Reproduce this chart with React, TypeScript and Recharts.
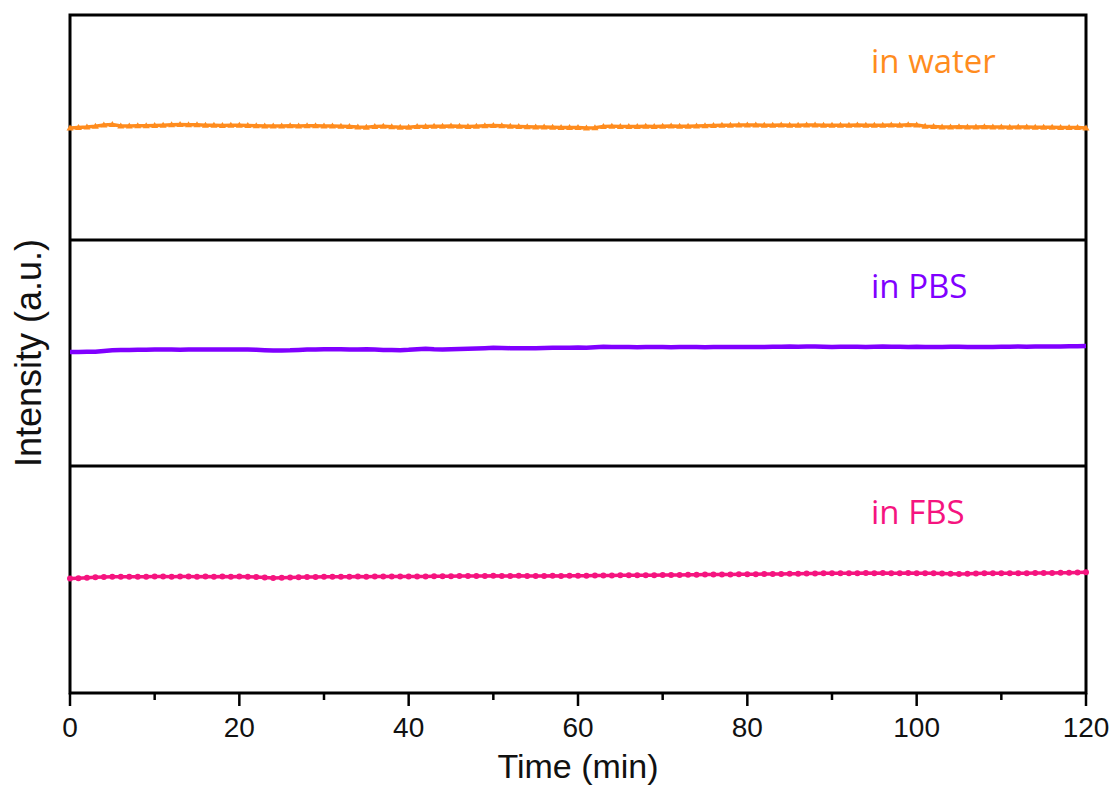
import React from 'react';
import { LineChart, Line, XAxis, YAxis, ReferenceArea } from 'recharts';

// intensity readings, one per minute from 0 to 120 min
const waterIntensity = [
  0.996, 1.0, 1.004, 1.012, 1.022, 1.027, 1.014, 1.013, 1.016, 1.015,
  1.017, 1.02, 1.024, 1.026, 1.025, 1.024, 1.021, 1.019, 1.018, 1.02,
  1.019, 1.017, 1.015, 1.014, 1.013, 1.014, 1.015, 1.014, 1.016, 1.015,
  1.014, 1.013, 1.012, 1.008, 1.004, 1.002, 1.01, 1.011, 1.006, 1.003,
  1.002, 1.008, 1.01, 1.011, 1.012, 1.013, 1.011, 1.009, 1.012, 1.016,
  1.018, 1.015, 1.011, 1.008, 1.006, 1.004, 1.005, 1.002, 1.0, 1.001,
  0.999, 0.996, 0.998, 1.01, 1.012, 1.01, 1.008, 1.009, 1.011, 1.01,
  1.012, 1.013, 1.011, 1.012, 1.014, 1.016, 1.018, 1.02, 1.021, 1.022,
  1.023, 1.022, 1.021, 1.02, 1.022, 1.021, 1.02, 1.022, 1.023, 1.021,
  1.02, 1.019, 1.021, 1.022, 1.02, 1.019, 1.021, 1.022, 1.02, 1.024,
  1.022, 1.012, 1.008, 1.005, 1.004, 1.006, 1.005, 1.004, 1.006, 1.005,
  1.004, 1.003, 1.005, 1.004, 1.003, 1.002, 1.003, 1.001, 1.0, 0.999,
  0.996,
];

const pbsIntensity = [
  1.009, 1.008, 1.01, 1.012, 1.018, 1.024, 1.026, 1.027, 1.028, 1.029,
  1.03, 1.031, 1.03, 1.029, 1.031, 1.03, 1.031, 1.032, 1.031, 1.031,
  1.032, 1.031, 1.028, 1.025, 1.022, 1.023, 1.024, 1.027, 1.03, 1.032,
  1.033, 1.034, 1.033, 1.032, 1.031, 1.033, 1.03, 1.027, 1.026, 1.025,
  1.028, 1.034, 1.037, 1.033, 1.032, 1.034, 1.036, 1.037, 1.039, 1.042,
  1.046, 1.045, 1.043, 1.041, 1.042, 1.043, 1.045, 1.046, 1.047, 1.047,
  1.048, 1.046, 1.05, 1.055, 1.053, 1.052, 1.052, 1.051, 1.052, 1.053,
  1.052, 1.051, 1.052, 1.053, 1.052, 1.051, 1.052, 1.054, 1.053, 1.052,
  1.053, 1.054, 1.053, 1.055, 1.056, 1.057, 1.056, 1.058, 1.057, 1.055,
  1.054, 1.055, 1.056, 1.055, 1.054, 1.056, 1.057, 1.056, 1.055, 1.054,
  1.055, 1.053, 1.052, 1.054, 1.055, 1.056, 1.054, 1.052, 1.053, 1.054,
  1.055, 1.056, 1.057, 1.056, 1.057, 1.058, 1.057, 1.058, 1.059, 1.06,
  1.061,
];

const fbsIntensity = [
  1.009, 1.012, 1.016, 1.02, 1.022, 1.024, 1.025, 1.025, 1.024, 1.025,
  1.026, 1.026, 1.025, 1.026, 1.026, 1.025, 1.026, 1.025, 1.026, 1.025,
  1.026, 1.024, 1.021, 1.018, 1.013, 1.015, 1.018, 1.02, 1.022, 1.023,
  1.024, 1.025, 1.024, 1.025, 1.026, 1.025, 1.026, 1.027, 1.026, 1.027,
  1.027, 1.026, 1.027, 1.028, 1.028, 1.029, 1.03, 1.03, 1.031, 1.031,
  1.032, 1.031, 1.031, 1.032, 1.031, 1.03, 1.031, 1.032, 1.031, 1.032,
  1.033, 1.034, 1.035, 1.036, 1.036, 1.037, 1.037, 1.038, 1.037, 1.038,
  1.039, 1.04, 1.04, 1.041, 1.042, 1.043, 1.043, 1.044, 1.045, 1.046,
  1.047, 1.047, 1.048, 1.049, 1.049, 1.05, 1.051, 1.052, 1.053, 1.054,
  1.055, 1.055, 1.056, 1.056, 1.057, 1.056, 1.057, 1.056, 1.056, 1.057,
  1.056, 1.055, 1.054, 1.052, 1.05, 1.049, 1.05, 1.053, 1.055, 1.054,
  1.055, 1.056, 1.055, 1.056, 1.057, 1.057, 1.058, 1.059, 1.06, 1.061,
  1.063,
];

// sampled once per minute
const minutes = waterIntensity.map((_, i) => i);

const timeTicks = [0, 10, 20, 30, 40, 50, 60, 70, 80, 90, 100, 110, 120];
const labeledTicks = [0, 20, 40, 60, 80, 100, 120];

const panels = [
  { key: 'water', label: 'in water', color: '#FF8C1E', values: waterIntensity },
  { key: 'pbs', label: 'in PBS', color: '#8000FF', values: pbsIntensity },
  { key: 'fbs', label: 'in FBS', color: '#F5147F', values: fbsIntensity },
];

const LEFT = 70;
const RIGHT = 1086;
const WIDTH = 1113;
const HEIGHT = 785;
// panel boundaries (top, bottom) in page pixels
const bands = [
  [15, 240],
  [240, 466],
  [466, 693],
];

const axisFont = '"Liberation Sans", Arial, sans-serif';
const labelFont = '"Open Sans", "Noto Sans", sans-serif';

function TimeTick(props: any) {
  const { x, y, payload } = props;
  const major = labeledTicks.includes(payload.value);
  return (
    <g>
      <line x1={x} x2={x} y1={y} y2={y + (major ? 13 : 7)} stroke="#000" strokeWidth={2.5} />
      {major && (
        <text x={x} y={y + 44} textAnchor="middle" fontSize={28} fontFamily={axisFont} fill="#111">
          {payload.value}
        </text>
      )}
    </g>
  );
}

function triangleDot(color: string) {
  return (p: any) => {
    const { cx, cy, index } = p;
    if (cx == null || cy == null) return <g key={`t-${index}`} />;
    return (
      <path
        key={`t-${index}`}
        d={`M${cx - 3.5},${cy + 2.5} L${cx},${cy - 3.5} L${cx + 3.5},${cy + 2.5} Z`}
        fill={color}
      />
    );
  };
}

function Panel({ idx }: { idx: number }) {
  const p = panels[idx];
  const [top, bottom] = bands[idx];
  const last = idx === panels.length - 1;
  const data = minutes.map((t, i) => ({ t, v: p.values[i] }));
  const svgTop = idx === 0 ? 0 : top;
  const svgHeight = last ? HEIGHT - top : bottom - svgTop;
  const marginTop = top - svgTop;
  const marginBottom = last ? HEIGHT - bottom - 60 : 0;

  let dot: any = false;
  let strokeWidth = 4.5;
  if (p.key === 'water') {
    dot = triangleDot(p.color);
    strokeWidth = 3.5;
  } else if (p.key === 'fbs') {
    dot = { r: 3, fill: p.color, stroke: 'none' };
    strokeWidth = 3.5;
  }

  return (
    <div style={{ position: 'absolute', left: 0, top: svgTop }}>
      <LineChart
        width={WIDTH}
        height={svgHeight}
        data={data}
        margin={{ top: marginTop, right: WIDTH - RIGHT, bottom: marginBottom, left: LEFT }}
      >
        <XAxis
          dataKey="t"
          type="number"
          domain={[0, 120]}
          ticks={timeTicks}
          hide={!last}
          height={60}
          axisLine={false}
          tickLine={false}
          tickSize={0}
          tickMargin={0}
          interval={0}
          tick={<TimeTick />}
        />
        <YAxis hide domain={[0, 2]} />
        <Line
          dataKey="v"
          type="linear"
          stroke={p.color}
          strokeWidth={strokeWidth}
          dot={dot}
          activeDot={false}
          isAnimationActive={false}
        />
        <ReferenceArea x1={0} x2={120} y1={0} y2={2} fill="none" stroke="#000" strokeWidth={3} />
      </LineChart>
    </div>
  );
}

export default function App() {
  return (
    <div
      style={{
        position: 'absolute',
        left: 0,
        top: 0,
        width: WIDTH,
        height: HEIGHT,
        background: '#fff',
      }}
    >
      {panels.map((_, i) => (
        <Panel key={i} idx={i} />
      ))}
      <svg
        width={WIDTH}
        height={HEIGHT}
        style={{ position: 'absolute', left: 0, top: 0, pointerEvents: 'none' }}
      >
        {panels.map((p, i) => (
          <text
            key={p.key}
            x={871}
            y={bands[i][0] + 58}
            fontSize={33}
            fontFamily={labelFont}
            fill={p.color}
          >
            {p.label}
          </text>
        ))}
        <text
          x={(LEFT + RIGHT) / 2}
          y={778}
          textAnchor="middle"
          fontSize={34}
          fontFamily={axisFont}
          fill="#111"
        >
          Time (min)
        </text>
        <text
          x={41}
          y={353}
          textAnchor="middle"
          fontSize={36}
          fontFamily={axisFont}
          fill="#111"
          transform="rotate(-90, 41, 353)"
        >
          Intensity (a.u.)
        </text>
      </svg>
    </div>
  );
}
